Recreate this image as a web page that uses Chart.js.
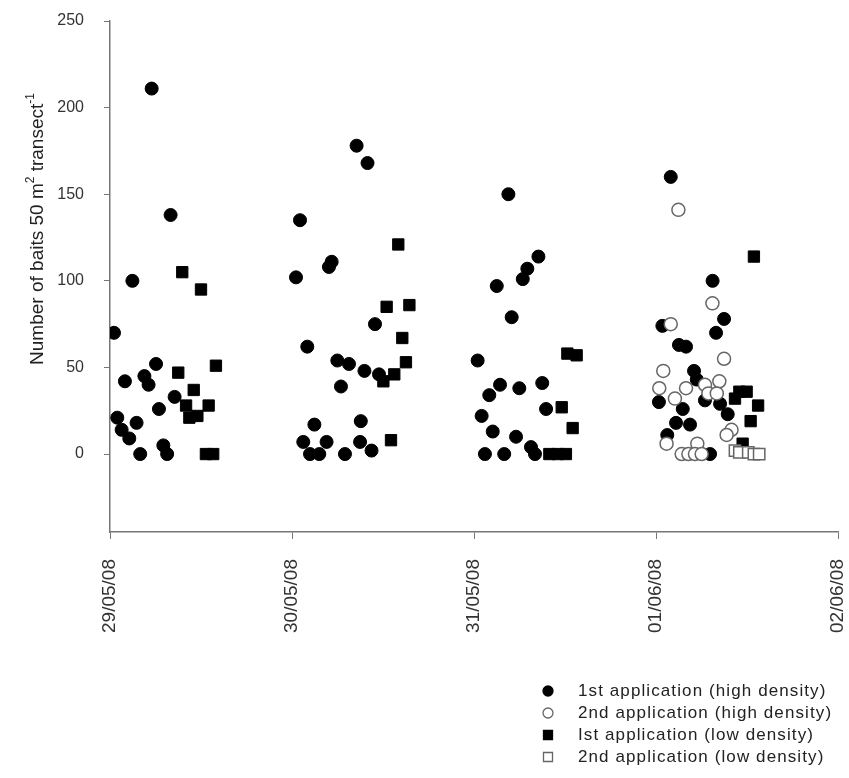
<!DOCTYPE html>
<html>
<head>
<meta charset="utf-8">
<title>Baits per transect</title>
<script src="https://cdn.jsdelivr.net/npm/chart.js@4/dist/chart.umd.min.js"></script>
<style>
  html, body { margin: 0; padding: 0; background: #fff; }
</style>
</head>
<body>
<canvas id="baits" width="849" height="778"></canvas>
<script>
'use strict';

// x = days after 29/05/08 (time of sampling), y = number of baits
const dateLabels = ['29/05/08', '30/05/08', '31/05/08', '01/06/08', '02/06/08'];
const seriesNames = [
  '1st application (high density)',
  '2nd application (high density)',
  'Ist application (low density)',
  '2nd application (low density)'
];

const highFirstX = [0.229, 0.333, 0.123, 0.022, 0.253, 0.082, 0.189, 0.212, 0.355, 0.269, 0.040, 0.146, 0.064, 0.106, 0.293, 0.166, 0.314,
  1.355, 1.415, 1.044, 1.022, 1.218, 1.203, 1.456, 1.084, 1.249, 1.313, 1.398, 1.478, 1.269, 1.123, 1.378, 1.062, 1.190, 1.099, 1.150, 1.291, 1.374, 1.437,
  2.189, 2.354, 2.293, 2.268, 2.125, 2.207, 2.020, 2.143, 2.084, 2.249, 2.375, 2.042, 2.396, 2.103, 2.231, 2.313, 2.335, 2.060, 2.166,
  3.081, 3.311, 3.374, 3.330, 3.035, 3.126, 3.165, 3.209, 3.224, 3.016, 3.147, 3.269, 3.352, 3.394, 3.110, 3.187, 3.062, 3.297];
const highFirstY = [211, 138, 100, 70, 52, 42, 45, 40, 33, 26, 21, 18, 14, 9, 5, 0, 0,
  178, 168, 135, 102, 111, 108, 75, 62, 54, 52, 48, 46, 39, 17, 19, 7, 7, 0, 0, 0, 7, 2,
  150, 114, 107, 101, 97, 79, 54, 40, 34, 38, 41, 22, 26, 13, 10, 4, 0, 0, 0,
  160, 100, 78, 70, 74, 63, 62, 48, 43, 30, 26, 31, 29, 23, 18, 17, 11, 0];

const highSecondX = [3.123, 3.310, 3.081, 3.374, 3.040, 3.018, 3.348, 3.165, 3.269, 3.288, 3.334, 3.104, 3.415, 3.388, 3.058, 3.227, 3.141, 3.178, 3.214, 3.251];
const highSecondY = [141, 87, 75, 55, 48, 38, 42, 38, 40, 35, 35, 32, 14, 11, 6, 6, 0, 0, 0, 0];

const lowFirstX = [0.397, 0.500, 0.582, 0.375, 0.460, 0.418, 0.542, 0.436, 0.480, 0.527, 0.567,
  1.584, 1.520, 1.645, 1.606, 1.626, 1.562, 1.502, 1.544,
  2.513, 2.564, 2.482, 2.542, 2.414, 2.460, 2.505,
  3.538, 3.458, 3.498, 3.434, 3.561, 3.520, 3.476];
const lowFirstY = [105, 95, 51, 47, 37, 28, 28, 21, 22, 0, 0,
  121, 85, 86, 67, 53, 46, 42, 8,
  58, 57, 27, 15, 0, 0, 0,
  114, 36, 36, 32, 28, 19, 6];

const lowSecondX = [3.434, 3.458, 3.507, 3.538, 3.567];
const lowSecondY = [2, 1, 1, 0, 0];

const yTicks = [0, 50, 100, 150, 200, 250];

function toPoints(xs, ys) {
  return xs.map((x, i) => ({ x: x, y: ys[i] }));
}

// legend stacked in a column at the bottom right, like the original figure
const stackedLegend = {
  id: 'stackedLegend',
  afterDraw(chart) {
    const ctx = chart.ctx;
    ctx.save();
    ctx.font = '17px "Liberation Sans", Arial, sans-serif';
    ctx.textBaseline = 'middle';
    ctx.letterSpacing = '1.1px';
    chart.data.datasets.forEach((ds, i) => {
      const y = 691 + i * 22;
      const x = 548;
      ctx.beginPath();
      if (ds.pointStyle === 'rect') {
        ctx.rect(x - 4.5, y - 4.5, 9, 9);
      } else {
        ctx.arc(x, y, 5, 0, Math.PI * 2);
      }
      ctx.fillStyle = ds.backgroundColor;
      ctx.fill();
      ctx.lineWidth = 1.3;
      ctx.strokeStyle = ds.borderColor;
      ctx.stroke();
      ctx.fillStyle = '#222';
      ctx.fillText(ds.label, 578, y);
    });
    ctx.restore();
  }
};

// rotated y title with superscripts (m2, transect-1)
const yTitle = {
  id: 'yTitle',
  afterDraw(chart) {
    const ctx = chart.ctx;
    const parts = [['Number of baits 50 m', false], ['2', true], [' transect', false], ['-1', true]];
    const big = '19px "Liberation Sans", Arial, sans-serif';
    const small = '12px "Liberation Sans", Arial, sans-serif';
    ctx.save();
    ctx.translate(38, 229);
    ctx.rotate(-Math.PI / 2);
    ctx.fillStyle = '#222';
    ctx.textBaseline = 'middle';
    let total = 0;
    parts.forEach(p => { ctx.font = p[1] ? small : big; total += ctx.measureText(p[0]).width; });
    let cx = -total / 2;
    parts.forEach(p => {
      ctx.font = p[1] ? small : big;
      ctx.fillText(p[0], cx, p[1] ? -7 : 0);
      cx += ctx.measureText(p[0]).width;
    });
    ctx.restore();
  }
};

const scatterConfig = {
  type: 'scatter',
  data: {
    datasets: [
      {
        label: seriesNames[0],
        data: toPoints(highFirstX, highFirstY),
        pointStyle: 'circle',
        pointRadius: 6.5,
        backgroundColor: '#000',
        borderColor: '#000',
        borderWidth: 1,
        order: 3
      },
      {
        label: seriesNames[1],
        data: toPoints(highSecondX, highSecondY),
        pointStyle: 'circle',
        pointRadius: 6.5,
        backgroundColor: '#fff',
        borderColor: '#666',
        borderWidth: 1.5,
        order: 1
      },
      {
        label: seriesNames[2],
        data: toPoints(lowFirstX, lowFirstY),
        pointStyle: 'rect',
        pointRadius: 8,
        backgroundColor: '#000',
        borderColor: '#000',
        borderWidth: 1,
        order: 2
      },
      {
        label: seriesNames[3],
        data: toPoints(lowSecondX, lowSecondY),
        pointStyle: 'rect',
        pointRadius: 8,
        backgroundColor: '#fff',
        borderColor: '#666',
        borderWidth: 1.5,
        order: 0
      }
    ]
  },
  options: {
    responsive: false,
    animation: false,
    layout: { padding: { top: 21, right: 11, left: 0, bottom: 0 } },
    plugins: {
      legend: { display: false },
      tooltip: { enabled: false }
    },
    scales: {
      x: {
        type: 'linear',
        min: 0,
        max: 4,
        afterFit: (scale) => {
          scale.height = 246;
          scale.paddingLeft = 0;
          scale.paddingRight = 0;
        },
        grid: { drawOnChartArea: false, tickLength: 7, color: '#777' },
        border: { color: '#777', width: 1.5 },
        ticks: {
          stepSize: 1,
          minRotation: 90,
          maxRotation: 90,
          padding: 20,
          color: '#333',
          font: { family: '"Liberation Sans", Arial, sans-serif', size: 19 },
          callback: (v) => dateLabels[v]
        }
      },
      y: {
        min: -45,
        max: 250,
        afterFit: (scale) => {
          scale.width = 110;
          scale.paddingTop = 0;
          scale.paddingBottom = 0;
        },
        grid: { drawOnChartArea: false, tickLength: 6, color: '#777' },
        border: { color: '#777', width: 1.5 },
        afterBuildTicks: (scale) => { scale.ticks = yTicks.map(v => ({ value: v })); },
        ticks: {
          padding: 20,
          color: '#333',
          font: { family: '"Liberation Sans", Arial, sans-serif', size: 16 }
        }
      }
    }
  },
  plugins: [stackedLegend, yTitle]
};

const baitsCtx = document.getElementById('baits');
window.baitsChart = new Chart(baitsCtx, scatterConfig);
</script>
</body>
</html>
